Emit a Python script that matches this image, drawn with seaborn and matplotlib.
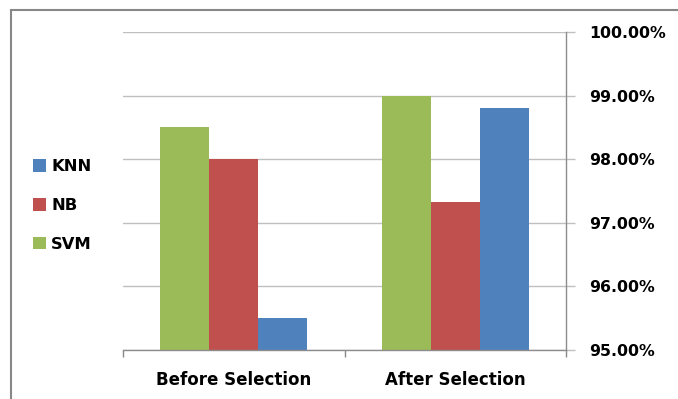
import matplotlib
matplotlib.use("Agg")
import matplotlib.pyplot as plt
import matplotlib.ticker as mticker
from matplotlib.patches import Rectangle
import seaborn as sns
import pandas as pd

# Accuracy (%) of each classifier before and after feature selection
stages = ["Before Selection", "After Selection"]
svm = [98.50, 99.00]
nb = [98.00, 97.33]
knn = [95.50, 98.80]
series_order = ["SVM", "NB", "KNN"]
legend_order = ["KNN", "NB", "SVM"]
y_ticks = [95, 96, 97, 98, 99, 100]

colors = {"SVM": "#9BBB59", "NB": "#C0504D", "KNN": "#4F81BD"}

df = pd.DataFrame({
    "stage": stages * 3,
    "model": ["SVM"] * 2 + ["NB"] * 2 + ["KNN"] * 2,
    "accuracy": svm + nb + knn,
})

sns.set_theme(style="white")
plt.rcParams["font.family"] = ["DejaVu Sans"]
plt.rcParams["text.color"] = "black"
plt.rcParams["xtick.color"] = "black"
plt.rcParams["ytick.color"] = "black"

fig = plt.figure(figsize=(6.78, 3.99), dpi=100)
ax = fig.add_axes([123 / 678, 1 - 350 / 399, (566 - 123) / 678, (350 - 32) / 399])

sns.barplot(data=df, x="stage", y="accuracy", hue="model", order=stages,
            hue_order=series_order, palette=colors, width=0.662,
            saturation=1, linewidth=0, ax=ax, legend=False)

ax.set_ylim(95, 100)
ax.set_xlim(-0.5, 1.5)
ax.set_xlabel("")
ax.set_ylabel("")

# Value axis on the right
ax.yaxis.tick_right()
ax.set_yticks(y_ticks)
ax.yaxis.set_major_formatter(mticker.FuncFormatter(lambda v, _: f"{v:.2f}%"))
ax.tick_params(axis="y", which="major", length=6.5, width=1, color="#BFBFBF",
               labelcolor="black", direction="out", pad=10, labelsize=11.3)
for lbl in ax.get_yticklabels():
    lbl.set_fontweight("bold")

ax.yaxis.grid(True, color="#BFBFBF", linewidth=1)
ax.set_axisbelow(True)

# Category axis: boundary ticks, labels centred without marks
ax.set_xticks([0, 1])
ax.set_xticks([-0.5, 0.5, 1.5], minor=True)
ax.tick_params(axis="x", which="major", length=0, pad=15, labelsize=12,
               labelcolor="black")
ax.tick_params(axis="x", which="minor", length=5, width=1, color="#888888",
               direction="out", bottom=True)
for lbl in ax.get_xticklabels():
    lbl.set_fontweight("bold")

for side in ["top", "left"]:
    ax.spines[side].set_visible(False)
for side in ["bottom", "right"]:
    ax.spines[side].set_visible(True)
    ax.spines[side].set_color("#8C8C8C")
    ax.spines[side].set_linewidth(1)

# Legend listed in reverse series order on the left
handles = [Rectangle((0, 0), 1, 1, facecolor=colors[m], edgecolor="none") for m in legend_order]
fig.legend(handles, legend_order, loc="center left",
           bbox_to_anchor=(33 / 678, 1 - 205.5 / 399), frameon=False,
           handlelength=0.8, handleheight=0.8, handletextpad=0.3,
           labelspacing=1.45, borderpad=0, borderaxespad=0,
           prop={"weight": "bold", "size": 11.8})

# Chart area frame
fig.patches.append(Rectangle((11 / 678, -0.1), 1.2, 1 - 10 / 399 + 0.1,
                             transform=fig.transFigure, fill=False,
                             edgecolor="#878787", linewidth=1.5))

fig.savefig("out.png", dpi=100)
